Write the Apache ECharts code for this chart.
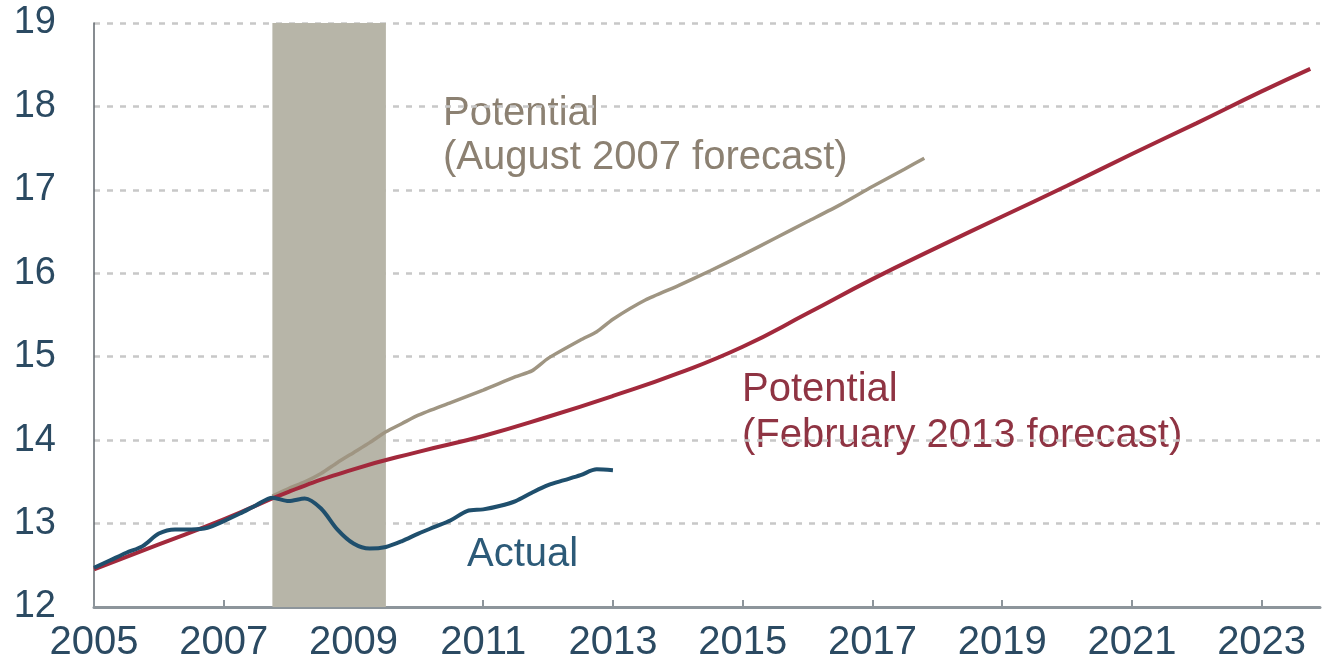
<!DOCTYPE html>
<html>
<head>
<meta charset="utf-8">
<script src="https://cdn.jsdelivr.net/npm/echarts@6/dist/echarts.min.js"></script>
<style>
  html, body { margin: 0; padding: 0; background: #fff; }
  #chart { width: 1322px; height: 661px; }
</style>
</head>
<body>
<div id="chart"></div>
<script>
// x axis runs on years since 2005 so ticks land on odd years
const baseYear = 2005;
const yTicks = [12, 13, 14, 15, 16, 17, 18, 19];
const recession = [2007.75, 2009.5];

const actualYears = [2005, 2005.25, 2005.5, 2005.75, 2006, 2006.25, 2006.5, 2006.75,
  2007, 2007.25, 2007.5, 2007.75, 2008, 2008.25, 2008.5, 2008.75,
  2009, 2009.25, 2009.5, 2009.75, 2010, 2010.25, 2010.5, 2010.75,
  2011, 2011.25, 2011.5, 2011.75, 2012, 2012.25, 2012.5, 2012.75, 2013];
const actualValues = [12.47, 12.56, 12.65, 12.73, 12.88, 12.93, 12.93, 12.95,
  13.03, 13.12, 13.22, 13.31, 13.27, 13.30, 13.18, 12.93,
  12.76, 12.70, 12.72, 12.79, 12.88, 12.96, 13.04, 13.15,
  13.17, 13.21, 13.27, 13.37, 13.46, 13.52, 13.58, 13.65, 13.64];

const augYears = [2007.75, 2008, 2008.25, 2008.5, 2008.75, 2009, 2009.25, 2009.5, 2009.75,
  2010, 2010.5, 2011, 2011.5, 2011.75, 2012, 2012.5, 2012.75, 2013, 2013.5,
  2014, 2014.5, 2015, 2015.5, 2016, 2016.5, 2017, 2017.5, 2017.8];
const augValues = [13.33, 13.42, 13.5, 13.6, 13.73, 13.85, 13.97, 14.1, 14.2,
  14.3, 14.45, 14.6, 14.76, 14.83, 14.98, 15.2, 15.3, 15.45, 15.68,
  15.85, 16.03, 16.22, 16.42, 16.62, 16.82, 17.04, 17.25, 17.38];

const febYears = [2005, 2006, 2007, 2008, 2009, 2010, 2011, 2012, 2013, 2014,
  2015, 2016, 2017, 2018, 2019, 2020, 2021, 2022, 2023, 2023.75];
const febValues = [12.45, 12.75, 13.05, 13.38, 13.65, 13.86, 14.05, 14.28, 14.53, 14.8,
  15.12, 15.52, 15.93, 16.31, 16.68, 17.05, 17.43, 17.8, 18.18, 18.45];

const pairs = (xs, vs) => xs.map((x, i) => [x - baseYear, vs[i]]);

const labelColor = "#2b4a62";
const font = "'Liberation Sans', Arial, sans-serif";

const chart = echarts.init(document.getElementById("chart"));

const option = {
  backgroundColor: "#fff",
  animation: false,
  grid: { left: 94, right: 2, top: 23, bottom: 54, outerBoundsMode: "none", containLabel: false },
  xAxis: {
    type: "value",
    min: 0,
    max: 18.9,
    interval: 2,
    axisLine: { show: true, lineStyle: { color: "#8d959b", width: 3 } },
    axisTick: { show: true, inside: true, length: 7, lineStyle: { color: "#8d959b", width: 2 } },
    axisLabel: {
      color: labelColor,
      fontFamily: font,
      fontSize: 40,
      margin: 16,
      showMaxLabel: false,
      formatter: (v) => (Number.isInteger(v) ? String(v + baseYear) : ""),
    },
    splitLine: { show: false },
  },
  yAxis: {
    type: "value",
    min: yTicks[0],
    max: yTicks[yTicks.length - 1],
    interval: 1,
    axisLine: { show: true, lineStyle: { color: "#5f666c", width: 1.5 } },
    axisTick: { show: false },
    axisLabel: { color: labelColor, fontFamily: font, fontSize: 38, margin: 38 },
    splitLine: { show: true, lineStyle: { color: "#c8c8c8", width: 2.5, type: [6, 7] } },
  },
  series: [
    {
      name: "Potential (August 2007 forecast)",
      type: "line",
      data: pairs(augYears, augValues),
      showSymbol: false,
      smooth: 0.2,
      lineStyle: { color: "#9f9582", width: 3.5 },
      z: 3,
      markArea: {
        silent: true,
        itemStyle: { color: "#b7b5a8" },
        data: [[{ xAxis: recession[0] - baseYear }, { xAxis: recession[1] - baseYear }]],
        z: 1,
      },
    },
    {
      name: "Potential (February 2013 forecast)",
      type: "line",
      data: pairs(febYears, febValues),
      showSymbol: false,
      smooth: 0.5,
      lineStyle: { color: "#a2293c", width: 4 },
      z: 4,
    },
    {
      name: "Actual",
      type: "line",
      data: pairs(actualYears, actualValues),
      showSymbol: false,
      smooth: 0.3,
      lineStyle: { color: "#1f4f6d", width: 4 },
      z: 5,
    },
  ],
  graphic: [
    {
      type: "text", left: 443, top: 92,
      style: { text: "Potential\n(August 2007 forecast)", fill: "#8c8172", font: "40px " + font, lineHeight: 44 },
    },
    {
      type: "text", left: 742, top: 367,
      style: { text: "Potential\n(February 2013 forecast)", fill: "#8f3443", font: "40px " + font, lineHeight: 46 },
    },
    {
      type: "text", left: 467, top: 535,
      style: { text: "Actual", fill: "#2c5a78", font: "40px " + font },
    },
  ],
};

chart.setOption(option);
</script>
</body>
</html>
